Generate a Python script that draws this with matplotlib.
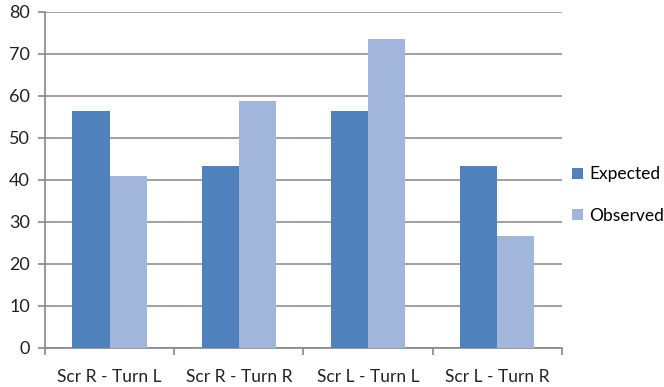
import numpy as np
import matplotlib.pyplot as plt

plt.rcParams['font.family'] = ['Lato', 'DejaVu Sans']

categories = ["Scr R - Turn L", "Scr R - Turn R", "Scr L - Turn L", "Scr L - Turn R"]
expected = [56.4, 43.4, 56.4, 43.4]
observed = [41.0, 58.8, 73.6, 26.7]

fig = plt.figure(figsize=(6.64, 3.87), dpi=100)
ax = fig.add_axes([0.068, 0.101, 0.778, 0.868])

x = np.arange(len(categories))
w = 0.289
ax.bar(x - w / 2, expected, w, color='#4F81BD', label='Expected', zorder=3)
ax.bar(x + w / 2, observed, w, color='#A2B5DA', label='Observed', zorder=3)

ax.set_xlim(-0.5, len(categories) - 0.5)
ax.set_ylim(0, 80)
ax.set_yticks(range(0, 81, 10))
ax.yaxis.grid(True, color='#A0A0A0', linewidth=1.4, zorder=0)

# category labels centred, tick marks between groups
ax.set_xticks(x)
ax.set_xticklabels(categories, fontsize=12.5, color='#222222')
ax.set_xticks(np.arange(-0.5, len(categories)), minor=True)
ax.tick_params(axis='x', which='major', length=0, pad=15)
ax.tick_params(axis='x', which='minor', length=5, color='#888888', width=1.2)
ax.tick_params(axis='y', length=5, color='#888888', width=1.2, labelsize=13,
               labelcolor='#222222', pad=6)

for side in ['top', 'right']:
    ax.spines[side].set_visible(False)
for side in ['left', 'bottom']:
    ax.spines[side].set_color('#888888')
    ax.spines[side].set_linewidth(1.2)

ax.legend(loc='center left', bbox_to_anchor=(0.99, 0.455), frameon=False,
          fontsize=12.5, handlelength=0.6, handleheight=0.6, handletextpad=0.4,
          labelspacing=1.45)

fig.savefig('out.png', dpi=100)
